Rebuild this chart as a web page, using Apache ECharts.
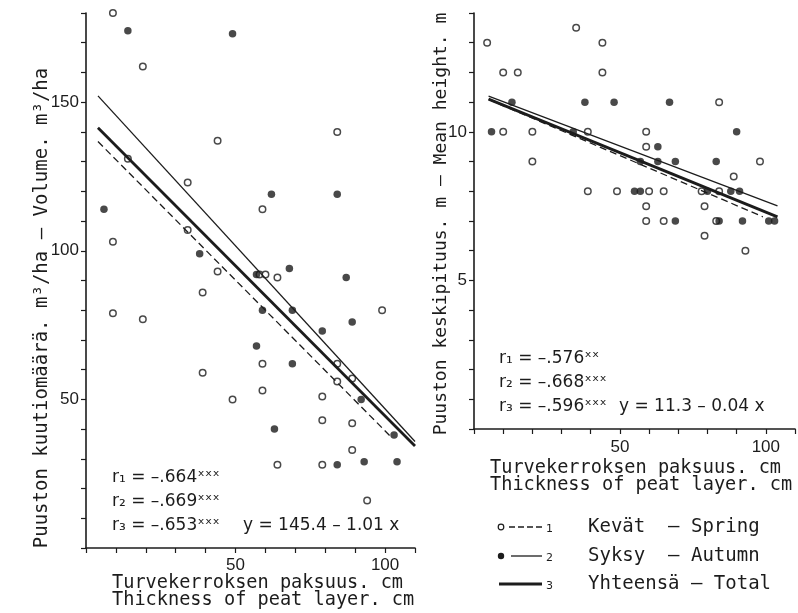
<!DOCTYPE html>
<html>
<head>
<meta charset="utf-8">
<script src="https://cdn.jsdelivr.net/npm/echarts@6/dist/echarts.min.js"></script>
<style>
  html, body { margin: 0; background: #fff; }
  #chart { width: 798px; height: 613px; }
</style>
</head>
<body>
<div id="chart"></div>
<script>
  // peat thickness (cm) vs. volume (m3/ha)
  var volSpring = [[9,180],[19,162],[44,137],[84,140],[14,131],[34,123],[59,114],[9,103],[34,107],[44,93],
    [58,92],[60,92],[64,91],[39,86],[99,80],[9,79],[19,77],[39,59],[59,62],[59,53],[49,50],[84,62],[89,57],
    [84,56],[79,51],[79,43],[89,42],[89,33],[64,28],[79,28],[94,16]];
  var volAutumn = [[14,174],[49,173],[6,114],[62,119],[84,119],[38,99],[57,92],[68,94],[87,91],[59,80],
    [69,80],[89,76],[79,73],[57,68],[69,62],[92,50],[103,38],[63,40],[84,28],[93,29],[104,29]];

  // peat thickness (cm) vs. mean height (m)
  var hgtSpring = [[4.5,13],[35,13.5],[44,13],[10,12],[15,12],[44,12],[10,10],[20,10],[20,9],[39,10],[39,8],
    [49,8],[59,10],[59,9.5],[60,8],[59,7.5],[59,7],[65,8],[65,7],[78,8],[79,7.5],[79,6.5],[84,11],[84,8],
    [83,7],[89,8.5],[93,6],[98,9]];
  var hgtAutumn = [[6,10],[13,11],[38,11],[48,11],[67,11],[34,10],[57,9],[63,9.5],[63,9],[69,9],[83,9],
    [90,10],[55,8],[57,8],[80,8],[88,8],[91,8],[69,7],[84,7],[92,7],[101,7],[103,7]];

  // regression lines: intercept, slope, x from, x to
  var volFitSpring = [140.8, -1.014, 4, 102];
  var volFitAutumn = [156.5, -1.097, 4, 110];
  var volFitTotal  = [145.4, -1.01, 4, 110];
  var hgtFitSpring = [11.3, -0.042, 5, 99];
  var hgtFitAutumn = [11.39, -0.0373, 5, 104];
  var hgtFitTotal  = [11.3, -0.04, 5, 104];

  var xTickLabels = [50, 100];
  var volTickLabels = [50, 100, 150];
  var hgtTickLabels = [5, 10];

  var ink = '#1c1c1c';
  var mono = "'DejaVu Sans Mono', monospace";
  var sans = "'DejaVu Sans', sans-serif";
  var tickFont = "'Liberation Sans Narrow', 'Liberation Sans', sans-serif";

  function fitLine(f) {
    return [[f[2], f[0] + f[1] * f[2]], [f[3], f[0] + f[1] * f[3]]];
  }

  function onlyLabels(list) {
    return function (v) { return list.indexOf(v) >= 0 ? String(v) : ''; };
  }

  function xAxisFor(idx, margin) {
    return {
      type: 'value', gridIndex: idx, min: 0, max: 110, interval: 10,
      axisLine: { lineStyle: { color: ink, width: 1.6 } },
      axisTick: { length: 5, lineStyle: { color: ink, width: 1.2 } },
      axisLabel: { formatter: onlyLabels(xTickLabels), color: ink, fontSize: 17, fontFamily: tickFont, margin: margin },
      splitLine: { show: false }
    };
  }

  function yAxisFor(idx, max, labels) {
    return {
      type: 'value', gridIndex: idx, min: 0, max: max, interval: max > 50 ? 10 : 1,
      axisLine: { show: true, lineStyle: { color: ink, width: 1.6 } },
      axisTick: { show: true, length: 5, lineStyle: { color: ink, width: 1.2 } },
      axisLabel: { formatter: onlyLabels(labels), color: ink, fontSize: 17, fontFamily: tickFont, margin: 7 },
      splitLine: { show: false }
    };
  }

  function dots(data, idx, open) {
    return {
      type: 'scatter', xAxisIndex: idx, yAxisIndex: idx, data: data,
      symbol: 'circle', symbolSize: open ? 6.5 : 7.5, z: 2,
      itemStyle: open ? { color: '#fff', borderColor: ink, borderWidth: 1.5 } : { color: ink },
      emphasis: { disabled: true }
    };
  }

  function fit(f, idx, width, dashed) {
    return {
      type: 'line', xAxisIndex: idx, yAxisIndex: idx, data: fitLine(f),
      showSymbol: false, z: 3, animation: false,
      lineStyle: { color: ink, width: width, type: dashed ? [7, 4] : 'solid' }
    };
  }

  function txt(x, y, s, font) {
    return {
      type: 'text', x: x, y: y,
      style: { text: s, font: font, fill: ink, verticalAlign: 'middle', align: 'left' }
    };
  }

  function vtxt(x, y, s, font) {
    return {
      type: 'text', x: x, y: y, rotation: Math.PI / 2,
      style: { text: s, font: font, fill: ink, verticalAlign: 'middle', align: 'center' }
    };
  }

  var graphics = [
    // axis names
    vtxt(42, 308, 'Puuston kuutiomäärä. m³/ha – Volume. m³/ha', '19px ' + mono),
    vtxt(441, 224, 'Puuston keskipituus. m – Mean height. m', '18px ' + mono),
    txt(112, 583, 'Turvekerroksen paksuus. cm', '18.6px ' + mono),
    txt(112, 600, 'Thickness of peat layer. cm', '18.6px ' + mono),
    txt(490, 468, 'Turvekerroksen paksuus. cm', '18.6px ' + mono),
    txt(490, 485, 'Thickness of peat layer. cm', '18.6px ' + mono),
    // statistics
    txt(112, 478, 'r₁ = –.664ˣˣˣ', '17px ' + sans),
    txt(112, 502, 'r₂ = –.669ˣˣˣ', '17px ' + sans),
    txt(112, 526, 'r₃ = –.653ˣˣˣ', '17px ' + sans),
    txt(243, 526, 'y = 145.4 – 1.01 x', '17px ' + sans),
    txt(499, 359, 'r₁ = –.576ˣˣ', '17px ' + sans),
    txt(499, 383, 'r₂ = –.668ˣˣˣ', '17px ' + sans),
    txt(499, 407, 'r₃ = –.596ˣˣˣ', '17px ' + sans),
    txt(619, 407, 'y = 11.3 – 0.04 x', '17px ' + sans),
    // legend
    { type: 'circle', shape: { cx: 501, cy: 527, r: 2.8 }, style: { fill: '#fff', stroke: ink, lineWidth: 1.2 } },
    { type: 'line', shape: { x1: 509, y1: 527, x2: 542, y2: 527 }, style: { stroke: ink, lineWidth: 1.3, lineDash: [6, 3] } },
    txt(546, 529, '1', '11px ' + sans),
    txt(588, 527, 'Kevät  – Spring', '19px ' + mono),
    { type: 'circle', shape: { cx: 501, cy: 556, r: 3.2 }, style: { fill: ink } },
    { type: 'line', shape: { x1: 511, y1: 556, x2: 542, y2: 556 }, style: { stroke: ink, lineWidth: 1.3 } },
    txt(546, 558, '2', '11px ' + sans),
    txt(588, 556, 'Syksy  – Autumn', '19px ' + mono),
    { type: 'line', shape: { x1: 499, y1: 584, x2: 542, y2: 584 }, style: { stroke: ink, lineWidth: 2.8 } },
    txt(546, 586, '3', '11px ' + sans),
    txt(588, 584, 'Yhteensä – Total', '19px ' + mono)
  ];

  var chart = echarts.init(document.getElementById('chart'));
  chart.setOption({
    backgroundColor: '#fff',
    animation: false,
    grid: [
      { left: 86, top: 13, width: 329, height: 535 },
      { left: 474, top: 13, width: 330, height: 416 }
    ],
    xAxis: [xAxisFor(0, 9), xAxisFor(1, 10)],
    yAxis: [yAxisFor(0, 180, volTickLabels), yAxisFor(1, 14, hgtTickLabels)],
    series: [
      dots(volSpring, 0, true),
      dots(volAutumn, 0, false),
      fit(volFitSpring, 0, 1.3, true),
      fit(volFitAutumn, 0, 1.3, false),
      fit(volFitTotal, 0, 2.8, false),
      dots(hgtSpring, 1, true),
      dots(hgtAutumn, 1, false),
      fit(hgtFitSpring, 1, 1.3, true),
      fit(hgtFitAutumn, 1, 1.3, false),
      fit(hgtFitTotal, 1, 2.8, false)
    ],
    graphic: graphics
  });
</script>
</body>
</html>
